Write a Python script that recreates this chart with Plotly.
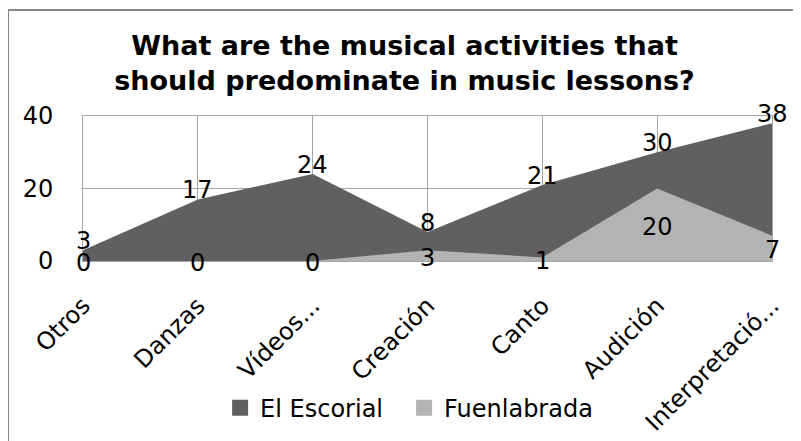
import plotly.graph_objects as go

categories = ["Otros", "Danzas", "Vídeos...", "Creación", "Canto", "Audición", "Interpretació..."]
el_escorial = [3, 17, 24, 8, 21, 30, 38]
fuenlabrada = [0, 0, 0, 3, 1, 20, 7]
y_ticks = [0, 20, 40]

FONT = "DejaVu Sans"
DARK = "#606060"
LIGHT = "#b3b3b3"
GRID = "#a6a6a6"
FS = 24

W, H = 793, 433  # page body has an 8px margin
x_idx = list(range(len(categories)))

fig = go.Figure()
fig.add_trace(go.Scatter(x=x_idx, y=el_escorial, name="El Escorial", mode="none",
                         fill="tozeroy", fillcolor=DARK, hoverinfo="skip", showlegend=False))
fig.add_trace(go.Scatter(x=x_idx, y=fuenlabrada, name="Fuenlabrada", mode="none",
                         fill="tozeroy", fillcolor=LIGHT, hoverinfo="skip", showlegend=False))
for name, col, lg in [("El Escorial", DARK, "legend"), ("Fuenlabrada", LIGHT, "legend2")]:
    fig.add_trace(go.Scatter(x=[None], y=[None], name=name, mode="markers", legend=lg,
                             marker=dict(symbol="square", size=16, color=col)))

annotations = []
for i, v in zip(x_idx, el_escorial):
    annotations.append(dict(x=i, y=v, text=str(v), showarrow=False, yanchor="middle",
                            yshift=9, font=dict(family=FONT, size=FS, color="#000")))
for i, v in zip(x_idx, fuenlabrada):
    annotations.append(dict(x=i, y=v / 2, text=str(v), showarrow=False, yanchor="middle",
                            yshift=-2, font=dict(family=FONT, size=FS, color="#000")))

legend_style = dict(orientation="h", xanchor="left", y=-1.014, yanchor="middle",
                    font=dict(family=FONT, size=FS), itemwidth=30, bgcolor="rgba(0,0,0,0)")

fig.update_layout(
    width=W, height=H,
    paper_bgcolor="white", plot_bgcolor="white",
    margin=dict(l=75, r=29, t=108, b=180, autoexpand=False),
    title=dict(text="What are the musical activities that<br>should predominate in music lessons?",
               x=0.5, xanchor="center", xref="container", y=1 - 47 / H, yanchor="middle",
               font=dict(family=FONT, size=27, color="#000", weight="bold")),
    font=dict(family=FONT, size=FS, color="#000"),
    showlegend=True,
    legend=dict(x=0.199, **legend_style),
    legend2=dict(x=0.466, **legend_style),
    annotations=annotations,
    shapes=[
        dict(type="line", xref="paper", yref="paper", x0=-75/689, x1=1.1, y0=251/145, y1=251/145,
             line=dict(color="#888888", width=2)),
        dict(type="line", xref="paper", yref="paper", x0=-75/689, x1=-75/689, y0=251/145, y1=-1.4,
             line=dict(color="#888888", width=2)),
    ],
)

fig.update_xaxes(range=[0, 6], tickmode="array", tickvals=x_idx, ticktext=categories,
                 tickangle=-45, showgrid=True, gridcolor=GRID, gridwidth=1,
                 showline=True, linecolor=GRID, mirror=True, zeroline=False, automargin=False,
                 ticks="", ticklabelstandoff=20, tickfont=dict(family=FONT, size=FS))
fig.update_yaxes(range=[0, 40], tickmode="array", tickvals=y_ticks,
                 showgrid=True, gridcolor=GRID, gridwidth=1,
                 showline=True, linecolor=GRID, mirror=True, zeroline=False, automargin=False,
                 ticks="", ticklabelstandoff=24, tickfont=dict(family=FONT, size=FS))

fig.write_html("out.html")
